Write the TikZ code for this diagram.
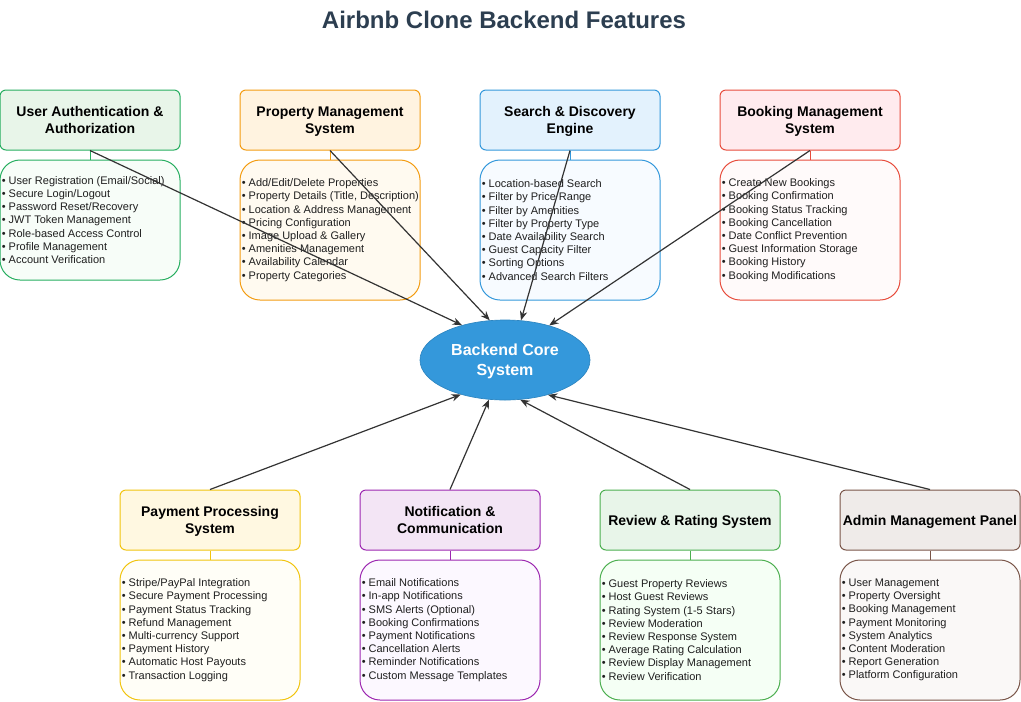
\documentclass[tikz,border=0pt]{standalone}
\usepackage{fontspec}
\setmainfont{Liberation Sans}
\usetikzlibrary{arrows.meta,shapes.geometric}
\definecolor{titlec}{HTML}{2C3E50}
\definecolor{cA}{HTML}{27AE60}\definecolor{fA}{HTML}{E8F5E9}\definecolor{gA}{HTML}{F7FDF8}
\definecolor{cB}{HTML}{F39C12}\definecolor{fB}{HTML}{FFF3E0}\definecolor{gB}{HTML}{FFFAF0}
\definecolor{cC}{HTML}{3498DB}\definecolor{fC}{HTML}{E3F2FD}\definecolor{gC}{HTML}{F7FBFF}
\definecolor{cD}{HTML}{E74C3C}\definecolor{fD}{HTML}{FFEBEE}\definecolor{gD}{HTML}{FFFAFA}
\definecolor{cE}{HTML}{F1C40F}\definecolor{fE}{HTML}{FFF8E1}\definecolor{gE}{HTML}{FFFEF7}
\definecolor{cF}{HTML}{9C27B0}\definecolor{fF}{HTML}{F3E5F5}\definecolor{gF}{HTML}{FCF8FF}
\definecolor{cG}{HTML}{4CAF50}\definecolor{fG}{HTML}{E8F5E9}\definecolor{gG}{HTML}{F5FFF5}
\definecolor{cH}{HTML}{795548}\definecolor{fH}{HTML}{EFEBE9}\definecolor{gH}{HTML}{FAF8F7}
\definecolor{coreF}{HTML}{3498DB}\definecolor{coreD}{HTML}{2E86C1}
\definecolor{arrc}{HTML}{333333}
\begin{document}
\begin{tikzpicture}[x=0.75pt,y=-0.75pt,
  hdr/.style={rectangle,rounded corners=4.5pt,line width=0.75pt,minimum width=135pt,minimum height=45pt,inner sep=0pt,align=center,text depth=0pt,font=\bfseries\fontsize{10.5}{12.75}\selectfont,text=black},
  det/.style={rectangle,rounded corners=15pt,line width=0.75pt,minimum width=135pt,inner sep=0pt},
  lst/.style={anchor=west,inner sep=0pt,align=left,font=\fontsize{8.25}{9.9}\selectfont,text=black!88},
  link/.style={line width=0.75pt},
  arr/.style={draw=arrc,line width=0.9pt,-{Stealth[length=7pt,width=5.5pt]}}]
\useasboundingbox (0,0) rectangle (1021,701);
\node[font=\bfseries\fontsize{18}{21}\selectfont,text=titlec] (title) at (504,20) {Airbnb Clone Backend Features};
% core
\node[ellipse,fill=coreF,draw=coreD,line width=0.5pt,minimum width=127.5pt,minimum height=60pt,inner sep=0pt,align=center,text depth=0pt,text=white,font=\bfseries\fontsize{12}{15}\selectfont] (core) at (505,360) {Backend Core\\System};
% top row
\node[hdr,draw=cA,fill=fA] (aH) at (90,120) {User Authentication \&\\Authorization};
\node[det,draw=cA,fill=gA,minimum height=90pt] (aD) at (90,220) {};
\node[lst] (aT) at ([xshift=1.5pt]aD.west) {• User Registration (Email/Social)\\• Secure Login/Logout\\• Password Reset/Recovery\\• JWT Token Management\\• Role-based Access Control\\• Profile Management\\• Account Verification};
\draw[link,cA] (aH.south) -- (aD.north);

\node[hdr,draw=cB,fill=fB] (bH) at (330,120) {Property Management\\System};
\node[det,draw=cB,fill=gB,minimum height=105pt] (bD) at (330,230) {};
\node[lst] (bT) at ([xshift=1.5pt]bD.west) {• Add/Edit/Delete Properties\\• Property Details (Title, Description)\\• Location \& Address Management\\• Pricing Configuration\\• Image Upload \& Gallery\\• Amenities Management\\• Availability Calendar\\• Property Categories};
\draw[link,cB] (bH.south) -- (bD.north);

\node[hdr,draw=cC,fill=fC] (cH) at (570,120) {Search \& Discovery\\Engine};
\node[det,draw=cC,fill=gC,minimum height=105pt] (cD) at (570,230) {};
\node[lst] (cT) at ([xshift=1.5pt]cD.west) {• Location-based Search\\• Filter by Price Range\\• Filter by Amenities\\• Filter by Property Type\\• Date Availability Search\\• Guest Capacity Filter\\• Sorting Options\\• Advanced Search Filters};
\draw[link,cC] (cH.south) -- (cD.north);

\node[hdr,draw=cD,fill=fD] (dH) at (810,120) {Booking Management\\System};
\node[det,draw=cD,fill=gD,minimum height=105pt] (dD) at (810,230) {};
\node[lst] (dT) at ([xshift=1.5pt]dD.west) {• Create New Bookings\\• Booking Confirmation\\• Booking Status Tracking\\• Booking Cancellation\\• Date Conflict Prevention\\• Guest Information Storage\\• Booking History\\• Booking Modifications};
\draw[link,cD] (dH.south) -- (dD.north);

% bottom row
\node[hdr,draw=cE,fill=fE] (eH) at (210,520) {Payment Processing\\System};
\node[det,draw=cE,fill=gE,minimum height=105pt] (eD) at (210,630) {};
\node[lst] (eT) at ([xshift=1.5pt]eD.west) {• Stripe/PayPal Integration\\• Secure Payment Processing\\• Payment Status Tracking\\• Refund Management\\• Multi-currency Support\\• Payment History\\• Automatic Host Payouts\\• Transaction Logging};
\draw[link,cE] (eH.south) -- (eD.north);

\node[hdr,draw=cF,fill=fF] (fH) at (450,520) {Notification \&\\Communication};
\node[det,draw=cF,fill=gF,minimum height=105pt] (fD) at (450,630) {};
\node[lst] (fT) at ([xshift=1.5pt]fD.west) {• Email Notifications\\• In-app Notifications\\• SMS Alerts (Optional)\\• Booking Confirmations\\• Payment Notifications\\• Cancellation Alerts\\• Reminder Notifications\\• Custom Message Templates};
\draw[link,cF] (fH.south) -- (fD.north);

\node[hdr,draw=cG,fill=fG] (gH) at (690,520) {Review \& Rating System};
\node[det,draw=cG,fill=gG,minimum height=105pt] (gD) at (690,630) {};
\node[lst] (gT) at ([xshift=1.5pt]gD.west) {• Guest Property Reviews\\• Host Guest Reviews\\• Rating System (1-5 Stars)\\• Review Moderation\\• Review Response System\\• Average Rating Calculation\\• Review Display Management\\• Review Verification};
\draw[link,cG] (gH.south) -- (gD.north);

\node[hdr,draw=cH,fill=fH] (hH) at (930,520) {Admin Management Panel};
\node[det,draw=cH,fill=gH,minimum height=105pt] (hD) at (930,630) {};
\node[lst] (hT) at ([xshift=1.5pt]hD.west) {• User Management\\• Property Oversight\\• Booking Management\\• Payment Monitoring\\• System Analytics\\• Content Moderation\\• Report Generation\\• Platform Configuration};
\draw[link,cH] (hH.south) -- (hD.north);

% arrows
\draw[arr] (aH.south) -- (core.141.5);
\draw[arr] (bH.south) -- (core.111.8);
\draw[arr] (cH.south) -- (core.68.2);
\draw[arr] (dH.south) -- (core.38.5);
\draw[arr] (eH.north) -- (core.218.5);
\draw[arr] (fH.north) -- (core.248.2);
\draw[arr] (gH.north) -- (core.291.8);
\draw[arr] (hH.north) -- (core.321.5);
\end{tikzpicture}
\end{document}
